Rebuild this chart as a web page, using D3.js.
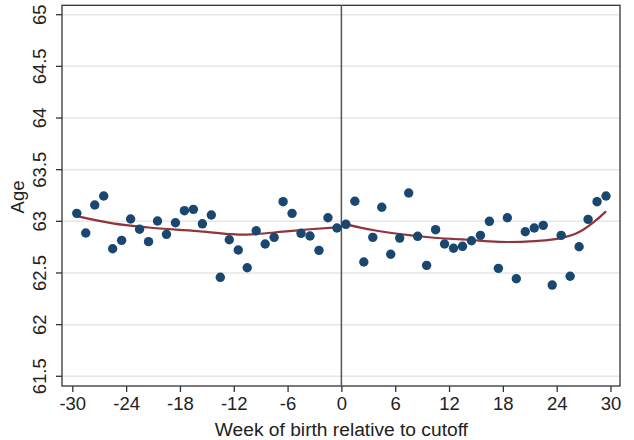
<!DOCTYPE html>
<html><head><meta charset="utf-8">
<script src="https://cdn.jsdelivr.net/npm/d3@7"></script>
<style>html,body{margin:0;padding:0;background:#fff;}svg{display:block;font-family:"Liberation Sans",Arial,sans-serif;}</style>
</head><body><svg id="c" width="634" height="440"></svg>
<script>
const weeks = d3.range(60).map(i => -29.5 + i);
const ages = [63.077,62.887,63.158,63.245,62.735,62.816,63.022,62.923,62.803,63.003,
62.874,62.986,63.103,63.116,62.976,63.061,62.458,62.822,62.722,62.551,
62.909,62.780,62.845,63.190,63.077,62.884,62.858,62.719,63.035,62.935,
62.971,63.194,62.606,62.845,63.136,62.681,62.838,63.274,62.855,62.574,
62.919,62.780,62.739,62.758,62.812,62.864,63.000,62.545,63.035,62.444,
62.899,62.935,62.961,62.383,62.864,62.468,62.754,63.019,63.190,63.245];
const fitLeftX = [-29.5,-25.5,-21.5,-16,-12.5,-11.5,-9.5,-6.5,-3.5,-0.5];
const fitLeftY = [63.05,62.98,62.94,62.905,62.877,62.872,62.877,62.90,62.923,62.942];
const fitRightX = [0.5,3.5,6.5,9.5,12.5,14.5,16.5,18.5,21.5,24.5,26.5,28.5,29.5];
const fitRightY = [62.971,62.916,62.877,62.848,62.829,62.819,62.806,62.80,62.809,62.838,62.896,63.019,63.097];
const xTicks = [-30,-24,-18,-12,-6,0,6,12,18,24,30];
const yTicks = [61.5,62,62.5,63,63.5,64,64.5,65];

const svg = d3.select("#c");
const L = 62, R = 620, T = 5.3, B = 386;
const x = d3.scaleLinear().domain([-30,30]).range([72.3,610.5]);
const y = d3.scaleLinear().domain([61.406,65.091]).range([B,T]);
const fmt = d => String(d);

// gridlines
svg.append("g").selectAll("line").data(yTicks).join("line")
  .attr("x1",L).attr("x2",R).attr("y1",d=>y(d)).attr("y2",d=>y(d))
  .attr("stroke","#e6e6e6").attr("stroke-width",1.5);

// y axis
const ya = svg.append("g").attr("transform",`translate(${L},0)`)
  .call(d3.axisLeft(y).tickValues(yTicks).tickSize(6).tickPadding(5).tickFormat(fmt));
ya.select(".domain").remove();
ya.selectAll("line").attr("stroke","#333").attr("stroke-width",1.3);
ya.selectAll("text").attr("font-size",18.5).attr("fill","#222").attr("font-family","Liberation Sans, Arial, sans-serif")
  .attr("transform",d=>`rotate(-90, -22, ${y(d)})`)
  .attr("x",-22).attr("y",d=>y(d)).attr("dy","0.35em").attr("text-anchor","middle");
ya.selectAll(".tick").attr("transform",null);
ya.selectAll(".tick line").attr("y1",d=>y(d)).attr("y2",d=>y(d));

// x axis
const xa = svg.append("g").attr("transform",`translate(0,${B})`)
  .call(d3.axisBottom(x).tickValues(xTicks).tickSize(6).tickPadding(5).tickFormat(fmt));
xa.select(".domain").remove();
xa.selectAll("line").attr("stroke","#333").attr("stroke-width",1.3);
xa.selectAll("text").attr("font-size",18.5).attr("fill","#222").attr("font-family","Liberation Sans, Arial, sans-serif");

// frame
svg.append("rect").attr("x",L).attr("y",T).attr("width",R-L).attr("height",B-T)
  .attr("fill","none").attr("stroke","#333").attr("stroke-width",1.3);

// cutoff line
svg.append("line").attr("x1",x(0)).attr("x2",x(0)).attr("y1",T).attr("y2",B)
  .attr("stroke","#555").attr("stroke-width",1.5);

// fits
const line = d3.line().x(d=>x(d[0])).y(d=>y(d[1])).curve(d3.curveMonotoneX);
[[fitLeftX,fitLeftY],[fitRightX,fitRightY]].forEach(([xs,ys])=>{
  svg.append("path").datum(xs.map((v,i)=>[v,ys[i]])).attr("d",line)
    .attr("fill","none").attr("stroke","#90353b").attr("stroke-width",2.2);
});

// dots
svg.append("g").selectAll("circle").data(weeks.map((w,i)=>[w,ages[i]])).join("circle")
  .attr("cx",d=>x(d[0])).attr("cy",d=>y(d[1])).attr("r",4.7).attr("fill","#1a476f");

// titles
svg.append("text").attr("x",x(0)).attr("y",436).attr("text-anchor","middle")
  .attr("font-size",19.2).attr("fill","#222").text("Week of birth relative to cutoff");
svg.append("text").attr("transform","translate(24,197) rotate(-90)").attr("text-anchor","middle")
  .attr("font-size",18.5).attr("fill","#222").text("Age");
</script></body></html>
